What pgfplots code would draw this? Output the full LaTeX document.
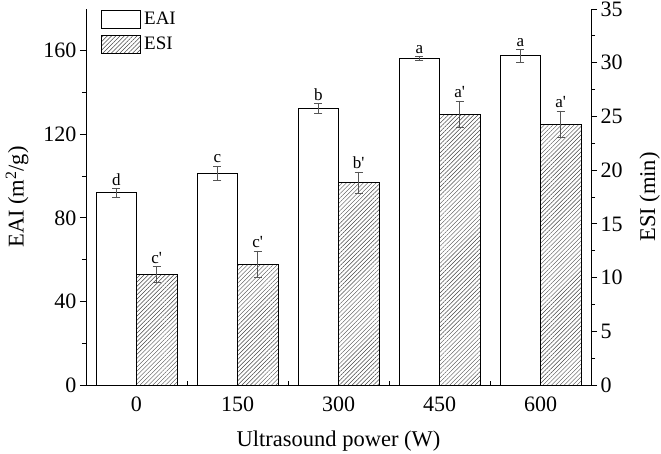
\documentclass[border=0pt]{standalone}
\usepackage{fontspec}
\setmainfont{Liberation Serif}
\usepackage{pgfplots}
\pgfplotsset{compat=1.18}
\usetikzlibrary{patterns.meta}
\definecolor{errgray}{RGB}{85,85,85}
\definecolor{hatchgray}{RGB}{70,70,70}
\newcommand{\pr}{\textquotesingle}
\begin{document}
\begin{tikzpicture}
\path[use as bounding box] (0pt,0pt) rectangle (661pt,453pt);
\pgfplotsset{
  common/.style={
    at={(86pt,68pt)}, anchor=south west,
    scale only axis, width=505pt, height=376pt,
    xmin=-0.5, xmax=4.5,
    axis line style={-, black, line width=0.9pt},
    tick style={black, line width=0.8pt},
    major tick length=6pt, minor tick length=4pt,
    tick align=outside,
    ticklabel style={font=\fontsize{22}{24}\selectfont},
    label style={font=\fontsize{22.5}{24}\selectfont},
    /pgf/number format/assume math mode=true,
  },
  errstyle/.style={
    error bars/.cd, y dir=both, y explicit,
    error bar style={errgray, line width=0.6pt},
    error mark options={rotate=90, mark size=4pt, errgray, line width=0.6pt},
  },
  lettersty/.style={
    only marks, mark=*, mark size=0pt, mark options={draw=none, fill=none},
    nodes near coords, point meta=explicit symbolic,
    nodes near coords style={anchor=south, inner sep=3pt, black,
      font=\fontsize{17}{18}\selectfont},
  },
}
\begin{axis}[
  common,
  ymin=0, ymax=180,
  axis x line*=bottom, axis y line*=left,
  xtick={0,1,2,3,4}, xticklabels={0,150,300,450,600},
  major x tick style={draw=none},
  minor xtick={0.5,1.5,2.5,3.5},
  minor x tick style={yshift=4pt},
  ytick={0,40,80,120,160}, minor ytick={20,60,100,140},
  xlabel={Ultrasound power (W)},
  ylabel={EAI (m\textsuperscript{2}/g)},
  xticklabel style={yshift=-2pt},
  xlabel shift=13pt,
  ylabel shift=8pt,
]
\addplot[ybar, bar width=0.4, bar shift=0pt, fill=white, draw=black, line width=0.8pt, errstyle]
  coordinates {(-0.2,92.0) +- (0,2.0) (0.8,101.3) +- (0,3.4) (1.8,132.4) +- (0,2.3) (2.8,156.4) +- (0,0.9) (3.8,157.6) +- (0,3.0)};
\addplot[lettersty]
  coordinates {(-0.2,94.0)[d] (0.8,104.7)[c] (1.8,134.7)[b] (2.8,157.3)[a] (3.8,160.6)[a]};
\end{axis}
\begin{axis}[
  common,
  ymin=0, ymax=35,
  axis x line=none, axis y line*=right,
  ytick={0,5,...,35}, minor ytick={2.5,7.5,...,32.5},
  ylabel={ESI (min)},
  ylabel shift=10pt,
  legend style={at={(axis description cs:0.03,1.0)}, anchor=north west,
    draw=none, fill=none, inner xsep=0pt, inner ysep=0pt,
    font=\fontsize{19}{20}\selectfont, row sep=5pt,
    nodes={inner sep=3pt}},
  legend cell align=left,
  legend image code/.code={\draw[#1] (0pt,-9pt) rectangle (39pt,9pt);},
]
\addlegendimage{fill=white, draw=black, line width=0.8pt}
\addlegendentry{EAI}
\addplot[ybar, bar width=0.4, bar shift=0pt, draw=black, line width=0.8pt,
  pattern={Lines[angle=45, distance=3pt, line width=0.45pt]}, pattern color=hatchgray, errstyle]
  coordinates {(0.2,10.3) +- (0,0.74) (1.2,11.24) +- (0,1.24) (2.2,18.84) +- (0,1.0) (3.2,25.2) +- (0,1.24) (4.2,24.27) +- (0,1.24)};
\addlegendentry{ESI}
\addplot[lettersty, forget plot]
  coordinates {(0.2,11.04)[c\pr] (1.2,12.48)[c\pr] (2.2,19.84)[b\pr] (3.2,26.44)[a\pr] (4.2,25.51)[a\pr]};
\end{axis}
\end{tikzpicture}
\end{document}
